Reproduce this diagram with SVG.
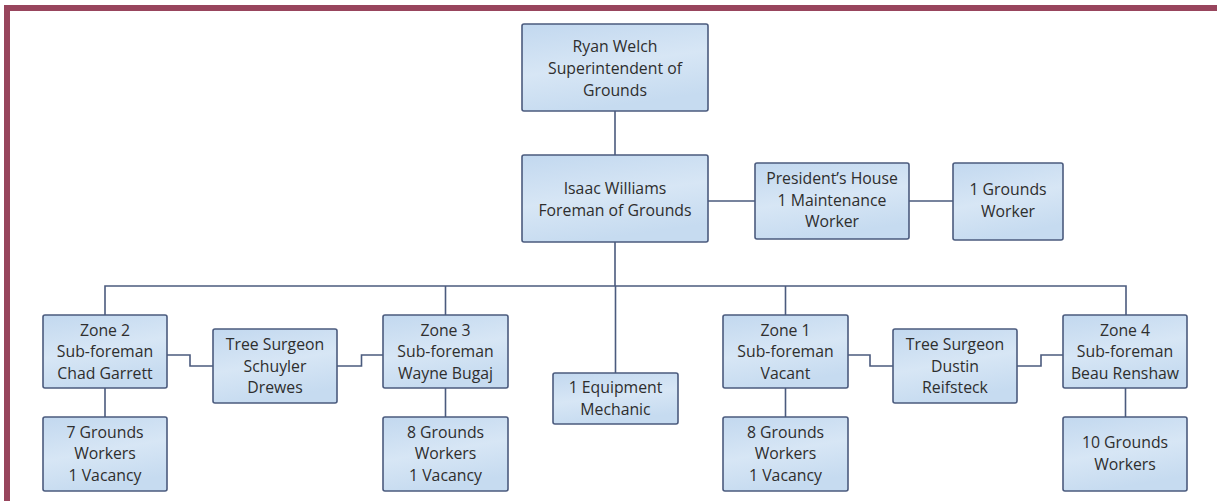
<svg xmlns="http://www.w3.org/2000/svg" width="1217" height="501" viewBox="0 0 1217 501">
<defs>
<linearGradient id="g" x1="0" y1="0" x2="0.3" y2="1">
<stop offset="0" stop-color="#c2d8ef"/>
<stop offset="0.55" stop-color="#d7e6f5"/>
<stop offset="1" stop-color="#c6dbf0"/>
</linearGradient>
<style>
.box{fill:url(#g);stroke:#4b5b7e;stroke-width:1.6}
.t{font-family:"Open Sans","Liberation Sans",sans-serif;font-size:15.8px;fill:#2e2e2e;text-anchor:middle}
.c{fill:none;stroke:#4b5b7e;stroke-width:1.6}
</style>
</defs>
<rect x="0" y="0" width="1217" height="501" fill="#fff"/>
<rect x="4" y="5" width="1213" height="6" fill="#98455d"/>
<rect x="4" y="5" width="6" height="496" fill="#98455d"/>
<g id="connectors">
<path class="c" d="M615 111V155M615 242V286M708 201H755M909 201H953"/>
<path class="c" d="M105 315V286H1126V315M445.5 286V315M615.5 286V373M785.5 286V315"/>
<path class="c" d="M105 388V417M445.5 388V417M785.5 388V417M1125.5 388V417"/>
<path class="c" d="M167 355H190V366H213M337 366H361.5V355H383"/>
<path class="c" d="M848 355H870V366H893M1017 366H1041V355H1063"/>
</g>
<g id="ryan"><rect class="box" x="522" y="24" width="186" height="87" rx="2"/>
<text class="t" x="615" y="52">Ryan Welch</text><text class="t" x="615" y="73.5">Superintendent of</text><text class="t" x="615" y="95.5">Grounds</text></g>
<g id="isaac"><rect class="box" x="522" y="155" width="186" height="87" rx="2"/>
<text class="t" x="615" y="194">Isaac Williams</text><text class="t" x="615" y="215.5">Foreman of Grounds</text></g>
<g id="president"><rect class="box" x="755" y="163" width="154" height="76" rx="2"/>
<text class="t" x="832" y="184">President’s House</text><text class="t" x="832" y="205.5">1 Maintenance</text><text class="t" x="832" y="227">Worker</text></g>
<g id="grounds1"><rect class="box" x="953" y="163" width="110" height="77" rx="2"/>
<text class="t" x="1008" y="195">1 Grounds</text><text class="t" x="1008" y="217">Worker</text></g>
<g id="zone2"><rect class="box" x="43" y="315" width="124" height="73" rx="2"/>
<text class="t" x="105" y="335.5">Zone 2</text><text class="t" x="105" y="357">Sub-foreman</text><text class="t" x="105" y="378.5">Chad Garrett</text></g>
<g id="tree1"><rect class="box" x="213" y="329" width="124" height="74" rx="2"/>
<text class="t" x="275" y="350">Tree Surgeon</text><text class="t" x="275" y="371.5">Schuyler</text><text class="t" x="275" y="393">Drewes</text></g>
<g id="zone3"><rect class="box" x="383" y="315" width="125" height="73" rx="2"/>
<text class="t" x="445.5" y="335.5">Zone 3</text><text class="t" x="445.5" y="357">Sub-foreman</text><text class="t" x="445.5" y="378.5">Wayne Bugaj</text></g>
<g id="mechanic"><rect class="box" x="553" y="373" width="125" height="51" rx="2"/>
<text class="t" x="615.5" y="393">1 Equipment</text><text class="t" x="615.5" y="414.5">Mechanic</text></g>
<g id="zone1"><rect class="box" x="723" y="315" width="125" height="73" rx="2"/>
<text class="t" x="785.5" y="335.5">Zone 1</text><text class="t" x="785.5" y="357">Sub-foreman</text><text class="t" x="785.5" y="378.5">Vacant</text></g>
<g id="tree2"><rect class="box" x="893" y="329" width="124" height="74" rx="2"/>
<text class="t" x="955" y="350">Tree Surgeon</text><text class="t" x="955" y="371.5">Dustin</text><text class="t" x="955" y="393">Reifsteck</text></g>
<g id="zone4"><rect class="box" x="1063" y="315" width="124" height="73" rx="2"/>
<text class="t" x="1125" y="335.5">Zone 4</text><text class="t" x="1125" y="357">Sub-foreman</text><text class="t" x="1125" y="378.5">Beau Renshaw</text></g>
<g id="workers2"><rect class="box" x="43" y="417" width="124" height="74" rx="2"/>
<text class="t" x="105" y="437.5">7 Grounds</text><text class="t" x="105" y="459">Workers</text><text class="t" x="105" y="480.5">1 Vacancy</text></g>
<g id="workers3"><rect class="box" x="383" y="417" width="125" height="74" rx="2"/>
<text class="t" x="445.5" y="437.5">8 Grounds</text><text class="t" x="445.5" y="459">Workers</text><text class="t" x="445.5" y="480.5">1 Vacancy</text></g>
<g id="workers1"><rect class="box" x="723" y="417" width="125" height="74" rx="2"/>
<text class="t" x="785.5" y="437.5">8 Grounds</text><text class="t" x="785.5" y="459">Workers</text><text class="t" x="785.5" y="480.5">1 Vacancy</text></g>
<g id="workers4"><rect class="box" x="1063" y="417" width="124" height="74" rx="2"/>
<text class="t" x="1125" y="448">10 Grounds</text><text class="t" x="1125" y="469.5">Workers</text></g>
</svg>
